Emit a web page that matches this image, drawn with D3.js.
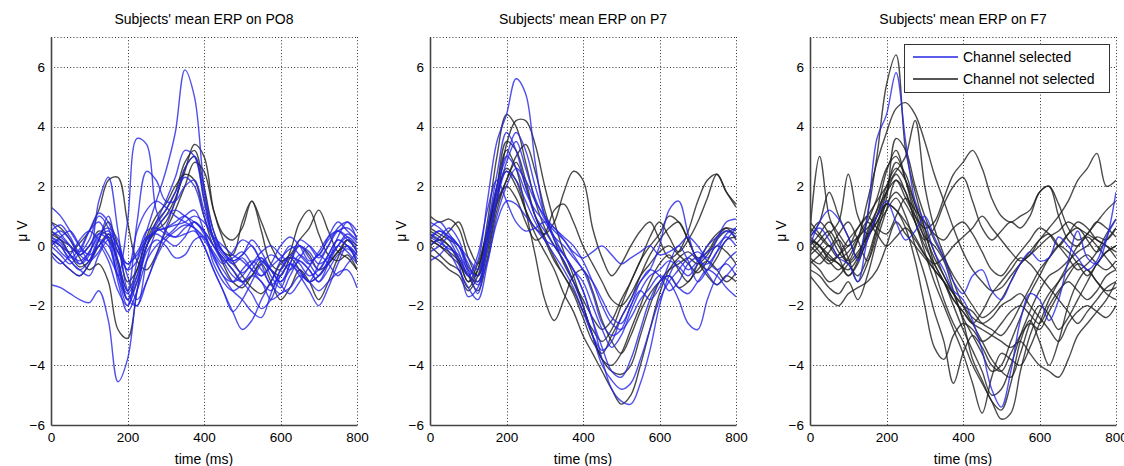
<!DOCTYPE html>
<html>
<head>
<meta charset="utf-8">
<script src="https://cdn.jsdelivr.net/npm/d3@7"></script>
<style>
  body { margin: 0; background: #fff; }
  svg { display: block; font-family: "Liberation Sans", Arial, sans-serif; }
</style>
</head>
<body>
<div id="chart"></div>
<script>
// Time axis (ms), one sample every 25 ms
const times = d3.range(0, 801, 25);
const xTicks = [0, 200, 400, 600, 800];
const yTicks = [-6, -4, -2, 0, 2, 4, 6];
const channels = ['PO8', 'P7', 'F7'];
const legendLabels = ['Channel selected', 'Channel not selected'];

// PO8 — selected (blue)
const po8Selected = [
  [0.3,0.1,-0.3,-0.5,-0.2,0.4,0.6,0.2,-0.8,-0.5,0.5,1.5,2.5,3.8,5.9,5.0,2.0,0.2,-0.5,-1.0,-1.2,-0.8,-0.4,-1.0,-1.4,-0.6,0.0,-0.4,-0.8,-0.3,0.2,0.0,-0.5],
  [-1.3,-1.4,-1.6,-1.8,-1.9,-1.5,-2.5,-4.55,-3.8,-1.5,-0.2,0.2,0.0,-0.4,-0.3,0.2,0.3,-0.6,-1.2,-1.5,-1.3,-1.0,-1.2,-1.8,-1.6,-1.4,-1.0,-1.2,-1.5,-1.2,-0.9,-0.8,-1.4],
  [0.2,0.0,-0.4,-0.1,0.5,0.8,0.2,-1.0,0.8,3.6,3.4,1.2,0.5,0.3,0.4,0.5,0.0,-0.8,-1.5,-2.2,-1.8,-1.2,-0.6,-0.3,-0.5,-0.8,-0.4,0.0,-0.3,0.3,0.8,0.5,0.2],
  [0.8,0.4,0.0,-0.6,-0.3,1.5,2.3,0.5,-1.5,-2.0,-0.5,0.5,1.0,1.2,1.0,0.8,0.5,0.0,-0.5,-0.4,-0.2,-0.6,-1.0,-0.6,0.0,0.3,0.0,-0.5,-0.3,0.2,0.5,0.3,-0.2],
  [0.0,0.3,0.5,0.0,-0.5,0.2,1.0,-0.5,-1.5,0.8,2.5,2.2,1.5,1.5,2.0,2.2,1.2,0.3,-0.2,-0.5,-0.3,0.0,-0.6,-1.3,-1.0,-0.6,-0.8,-1.2,-1.0,-0.5,0.0,-0.2,-0.6],
  [0.2,-0.2,-0.5,-0.8,-0.5,0.2,0.0,-1.0,-2.0,-1.2,0.0,0.8,1.5,2.3,3.2,3.0,1.5,0.2,-0.3,-0.6,-0.4,-0.8,-1.2,-1.5,-0.8,-0.3,-0.6,-1.0,-0.8,-0.3,0.2,0.0,-0.3],
  [0.5,0.3,0.0,-0.3,0.0,0.4,0.2,-0.5,-1.8,-1.0,0.2,0.5,0.6,0.8,1.0,0.6,0.0,-0.8,-1.5,-2.2,-2.8,-2.5,-1.8,-1.2,-0.5,0.0,-0.3,-0.6,-0.2,0.3,0.5,0.2,-0.1],
  [0.0,0.2,-0.3,-0.6,-0.2,0.3,0.5,0.0,-0.6,-0.3,0.2,0.5,0.6,0.7,0.8,1.0,0.8,0.3,0.0,-0.3,-0.5,-0.8,-1.0,-0.7,-0.4,-0.1,0.0,-0.2,-0.6,-0.4,0.0,0.3,0.0],
  [0.3,0.0,-0.5,-0.8,-1.0,-0.3,0.2,-1.2,-2.2,-1.5,-0.5,0.0,0.3,0.6,1.0,1.2,0.5,-0.4,-1.0,-1.5,-1.8,-2.2,-2.4,-1.6,-0.8,-0.4,-0.5,-0.8,-1.2,-0.8,-0.3,-0.1,-0.4],
  [1.3,1.0,0.5,0.0,-0.3,0.0,0.3,-0.2,-0.8,0.5,1.2,1.5,1.3,1.0,0.8,0.6,0.3,-0.2,-0.6,-0.2,0.2,0.0,-0.5,-0.8,-1.2,-0.8,-0.3,-0.6,-1.0,-0.5,0.3,0.8,0.2],
  [-0.2,-0.5,-0.8,-1.0,-0.6,0.0,-0.5,-1.5,-2.0,-0.5,0.5,0.6,0.4,0.3,0.6,0.8,0.4,-0.3,-1.0,-1.2,-0.8,-0.5,-0.8,-1.3,-1.6,-1.0,-0.5,-0.8,-1.2,-0.6,0.0,0.4,0.1],
  [0.5,0.7,0.3,-0.2,0.2,1.0,0.6,-0.8,-1.6,-1.0,0.0,0.7,1.2,1.8,2.3,2.0,1.0,0.2,-0.2,-0.5,-0.3,0.2,-0.2,-0.8,-1.2,-0.6,0.2,0.0,-0.4,0.0,0.5,0.6,0.3],
  [-0.3,-0.6,-0.3,0.2,0.5,0.2,-0.3,-1.0,-1.8,-2.0,-1.2,-0.4,0.2,0.5,0.7,0.6,0.2,-0.3,-0.8,-1.2,-1.0,-0.6,-0.4,-0.8,-1.3,-1.6,-1.2,-0.7,-0.3,-0.6,-1.0,-0.6,-0.2],
  [0.0,-0.3,-0.6,-0.2,0.5,1.1,0.8,-0.2,-0.6,-0.2,0.3,0.4,0.2,0.0,0.3,0.8,0.5,0.0,-0.4,-0.8,-1.2,-1.6,-2.1,-1.8,-1.0,-0.6,-1.0,-1.5,-2.0,-1.4,-0.6,0.0,-0.3],
  [0.3,0.5,0.2,-0.3,-0.5,-0.2,0.4,0.0,-1.0,-1.8,-1.2,-0.3,0.6,1.5,2.6,3.0,1.8,0.5,-0.2,-0.6,-0.9,-0.6,-0.2,0.0,-0.3,-0.6,-0.9,-1.2,-0.6,0.0,0.6,0.8,0.5]
];
// PO8 — not selected (black)
const po8NotSelected = [
  [0.8,0.6,0.2,-0.4,-0.8,-0.6,-1.2,-2.8,-3.1,-1.5,0.0,0.6,1.0,1.6,2.5,3.4,3.0,1.2,0.2,-0.5,-1.0,-1.4,-1.6,-1.2,-0.6,-0.4,-0.8,-1.2,-1.0,-0.6,-0.2,0.0,-0.6],
  [0.2,0.0,-0.2,0.1,0.5,1.2,2.2,2.3,0.8,-0.5,-0.8,-0.3,0.5,1.2,2.0,2.8,2.5,1.2,0.4,0.2,0.6,1.5,0.8,0.0,-0.5,-0.3,0.2,0.6,1.2,0.5,-0.2,-0.4,-0.8],
  [0.5,0.2,-0.3,-0.7,-0.5,0.2,0.8,0.0,-1.2,-0.8,0.2,0.8,1.2,1.8,2.8,3.2,2.0,0.5,-0.2,-0.3,0.8,1.5,0.5,-0.6,-0.8,-0.2,0.8,1.2,0.4,-0.3,-0.5,-0.3,-0.8],
  [-0.2,-0.5,-0.8,-1.0,-0.6,0.0,0.4,-0.6,-1.8,-1.2,0.0,0.5,0.8,1.5,2.6,3.0,1.6,0.2,-0.6,-1.2,-1.4,-1.0,-0.6,-1.2,-1.8,-1.4,-0.8,-1.2,-1.8,-1.2,-0.4,0.2,0.0],
  [0.4,0.2,0.0,-0.3,0.0,0.5,0.3,-0.5,-1.5,-0.8,0.3,1.0,1.4,2.0,2.4,2.2,1.0,0.0,-0.4,-0.8,-1.2,-1.0,-0.5,-0.8,-1.0,-0.4,0.0,-0.3,-0.8,-0.6,-0.2,0.2,-0.2]
];

// P7 — selected (blue)
const p7Selected = [
  [0.3,0.5,0.2,-0.4,-1.0,-0.5,1.5,3.5,4.4,5.6,5.1,2.8,1.0,0.2,-0.3,-0.8,-1.5,-2.5,-3.8,-4.8,-5.2,-5.3,-4.6,-3.5,-2.0,-1.0,-0.5,-0.8,-0.5,0.0,0.3,0.5,0.3],
  [0.0,0.3,0.6,0.2,-0.8,-1.6,0.5,2.4,3.8,3.2,2.0,1.0,0.5,0.0,-0.5,-1.2,-2.0,-3.0,-4.0,-4.5,-4.8,-4.6,-3.8,-2.8,-1.8,-1.2,-0.8,-0.4,-0.2,-0.5,-0.8,-0.6,-1.0],
  [0.8,0.6,0.3,0.0,-0.6,-1.2,0.0,1.8,3.0,2.6,1.8,1.2,0.8,0.3,0.0,-0.4,-0.8,-1.6,-2.6,-3.0,-2.8,-2.0,-1.5,-1.8,-1.4,-0.6,0.0,-0.5,-1.2,-0.8,-0.2,0.4,0.6],
  [-0.5,-0.3,0.0,-0.6,-1.7,-1.4,0.0,1.5,2.5,2.2,1.5,0.8,0.2,-0.3,-0.8,-1.4,-2.2,-3.0,-3.5,-3.2,-2.4,-1.8,-1.2,-0.8,-1.0,-1.5,-1.2,-0.6,-0.4,-0.9,-1.3,-1.0,-0.6],
  [0.2,0.5,0.3,-0.2,-1.0,-0.3,1.2,2.2,1.5,0.8,0.5,0.6,0.8,0.6,0.2,-0.3,-0.8,-1.2,-1.8,-2.4,-2.6,-2.0,-1.2,-0.8,0.0,1.2,1.5,0.4,-0.5,-0.6,-0.2,0.2,0.6],
  [0.4,0.2,-0.2,-0.8,-1.4,-1.8,-0.6,1.0,2.0,2.6,2.2,1.5,1.0,0.6,0.3,0.0,-0.5,-1.2,-2.0,-2.6,-2.8,-2.4,-1.8,-1.4,-1.0,-1.2,-1.8,-2.6,-2.8,-1.8,-1.0,-0.5,-0.2],
  [0.6,0.8,0.4,0.0,-0.4,-0.8,0.3,1.6,2.8,3.5,2.6,1.6,0.9,0.5,0.2,-0.2,-0.4,-0.2,0.0,-0.3,-0.6,-0.4,-0.2,0.0,-0.3,-0.2,0.0,0.3,0.0,-0.4,0.2,0.8,0.9],
  [-0.2,0.0,0.3,0.0,-0.9,-1.3,-0.5,0.8,1.5,1.4,1.0,0.6,0.2,0.0,-0.3,-0.8,-1.5,-2.5,-3.4,-4.2,-4.4,-3.8,-2.8,-1.8,-1.2,-1.0,-1.4,-1.6,-1.2,-0.8,-1.0,-1.4,-1.7],
  [0.3,0.1,-0.1,-0.3,-0.8,-1.0,0.6,2.0,3.0,3.8,3.2,2.0,1.0,0.3,-0.3,-0.8,-1.2,-2.0,-2.8,-3.4,-3.0,-2.2,-1.5,-1.0,-0.8,-0.5,-0.7,-1.0,-0.6,-0.2,0.0,0.3,0.0]
];
// P7 — not selected (black)
const p7NotSelected = [
  [0.5,0.3,0.0,-0.5,-1.2,-0.8,0.8,3.0,4.4,4.0,2.8,1.5,0.6,0.0,-0.5,-1.2,-2.0,-3.0,-3.8,-4.0,-3.6,-2.8,-2.0,-1.2,-0.6,-0.3,-0.8,-1.2,-0.6,0.0,0.4,0.6,0.2],
  [0.2,0.0,-0.3,-0.6,-1.0,-1.2,-0.2,1.5,3.4,4.2,4.2,3.4,2.0,0.8,-0.2,-1.0,-2.0,-3.0,-3.8,-4.2,-4.3,-4.0,-3.0,-2.0,-1.2,-0.8,-0.6,-0.4,-0.6,-0.3,0.2,0.5,0.4],
  [1.0,0.8,0.9,0.6,-0.4,-1.0,0.0,1.6,2.6,2.2,1.2,0.6,0.4,0.8,1.8,2.5,2.2,0.6,-0.4,-1.0,-0.6,0.0,0.5,0.8,0.2,-0.4,-0.2,0.5,1.5,2.2,2.4,1.8,1.3],
  [0.0,-0.3,-0.6,-0.8,-1.4,-0.8,0.5,2.0,3.2,2.6,1.2,-0.3,-1.8,-2.5,-1.8,-1.0,-0.8,-1.5,-2.5,-3.2,-3.6,-3.0,-2.2,-1.6,-1.2,-1.0,-1.4,-1.2,-0.8,-0.5,-0.8,-1.2,-0.9],
  [-0.3,-0.5,-0.8,-1.0,-1.5,-1.0,0.3,1.8,2.5,2.0,1.2,0.4,-0.2,-0.8,-1.6,-2.2,-3.0,-3.6,-4.2,-4.8,-5.3,-5.0,-4.0,-2.8,-1.6,-0.8,-0.4,-0.2,-0.5,-0.8,-0.4,0.2,0.3],
  [0.4,0.2,0.5,0.8,0.0,-0.6,0.4,2.0,3.5,3.2,2.2,1.0,0.3,-0.4,-1.0,-1.5,-2.2,-2.8,-3.2,-2.8,-2.0,-1.2,-0.5,0.3,0.8,0.3,-0.2,0.2,0.8,1.6,2.4,1.8,1.4],
  [0.0,0.2,0.0,-0.4,-1.0,-1.5,-0.4,1.2,2.2,2.8,2.0,1.0,0.2,-0.5,-1.0,-1.6,-2.4,-3.2,-3.6,-3.0,-2.4,-1.8,-1.0,-0.3,0.2,0.6,0.8,0.2,-0.4,-0.2,0.3,0.6,0.5],
  [0.6,0.4,0.2,0.0,-0.7,-1.0,0.2,1.4,2.0,1.6,0.8,0.2,0.4,1.2,1.4,0.8,0.0,-0.6,-1.2,-1.8,-2.0,-1.6,-1.0,-0.6,-0.2,0.0,-0.3,-0.6,-0.9,-0.5,0.0,-0.2,-0.6],
  [0.2,0.0,-0.2,-0.5,-1.2,-0.6,0.5,1.5,2.2,3.0,3.4,2.5,1.2,0.2,-0.6,-1.2,-1.8,-2.4,-2.8,-2.5,-1.8,-1.2,-0.5,0.0,0.4,1.0,0.8,0.2,-0.5,-1.0,-1.3,-1.0,-1.2]
];

// F7 — selected (blue)
const f7Selected = [
  [0.0,0.8,1.2,0.9,0.3,-0.5,1.0,3.6,4.4,5.8,3.5,1.5,0.8,-0.2,-0.8,-1.5,-1.8,-2.5,-3.5,-4.8,-5.4,-4.2,-2.5,-1.6,-1.8,-2.5,-1.8,-0.5,0.5,-0.4,-0.6,0.2,1.8],
  [0.3,0.6,0.2,-0.4,-0.6,-1.2,0.2,1.0,1.5,0.8,0.2,0.5,1.0,0.3,-0.4,-1.2,-1.6,-1.0,-0.8,-1.5,-1.8,-1.2,-0.6,-0.2,-0.5,-0.4,0.3,0.0,-0.4,-0.8,-0.5,0.3,0.9]
];
// F7 — not selected (black)
const f7NotSelected = [
  [0.3,0.0,-0.4,-0.6,-1.0,-0.5,1.0,3.0,5.4,6.4,3.2,1.8,0.6,-0.6,-1.2,-2.0,-2.8,-3.5,-4.2,-5.0,-4.8,-4.0,-3.0,-2.2,-1.5,-1.0,-0.8,-0.5,-0.2,0.0,0.3,0.2,0.6],
  [-0.2,0.2,0.5,0.0,-0.5,0.2,1.5,2.8,3.8,4.6,4.8,4.4,3.5,2.4,1.5,0.6,-0.2,-0.8,-1.2,-1.5,-1.4,-1.0,-0.6,-0.3,0.0,0.3,0.5,0.8,0.6,0.4,0.2,0.0,-0.2],
  [0.5,3.0,1.0,0.2,-0.6,-0.3,0.4,1.2,2.5,3.2,2.2,1.0,0.3,0.0,-0.5,-1.5,-2.5,-3.8,-4.5,-5.2,-5.5,-4.6,-3.2,-2.5,-3.2,-4.0,-3.2,-2.0,-1.2,-0.8,-1.2,-1.5,-1.4],
  [0.0,-0.3,-0.6,-0.3,0.2,0.6,1.0,1.5,2.0,2.5,3.0,4.2,2.0,0.6,-0.3,-1.2,-2.0,-2.6,-3.2,-3.8,-4.2,-4.4,-3.6,-2.6,-2.0,-2.3,-2.8,-2.4,-1.8,-1.2,-0.6,-0.2,0.0],
  [0.2,0.0,-0.3,-0.6,-0.8,-0.4,0.5,1.2,1.8,2.2,1.6,1.0,0.6,0.8,1.6,2.4,2.8,3.2,2.6,1.6,1.0,0.8,1.0,1.2,1.8,2.0,1.4,0.6,0.2,0.4,0.8,0.6,0.3],
  [-0.5,-0.8,-1.2,-1.0,-0.6,-0.2,0.3,0.8,1.4,1.8,1.4,0.8,0.2,0.6,1.4,2.0,2.3,1.5,0.6,0.2,0.5,0.8,0.6,1.0,1.8,2.0,1.0,0.2,0.0,0.4,0.8,1.2,1.5],
  [0.8,0.4,0.0,-0.4,-0.2,0.3,0.8,0.4,0.0,0.3,0.6,0.2,-0.3,-0.6,-0.4,0.0,0.3,0.6,1.0,0.6,0.2,-0.2,-0.5,-0.3,0.2,0.6,1.0,1.5,2.2,2.6,3.1,2.0,2.2],
  [0.2,0.0,-0.5,-0.8,-0.4,0.2,0.8,1.6,2.6,3.0,2.2,1.2,0.2,-0.8,-1.8,-2.6,-3.2,-4.0,-4.6,-5.2,-5.8,-5.6,-4.2,-3.0,-2.2,-1.6,-1.2,-0.8,-0.5,-0.3,-0.6,-0.8,-0.5],
  [-0.6,-0.3,0.0,-0.4,-1.0,-0.6,0.3,1.0,1.8,2.4,1.8,0.8,-0.2,-1.2,-2.0,-2.8,-3.6,-4.6,-5.6,-4.4,-3.6,-3.8,-4.0,-3.4,-2.6,-1.8,-1.2,-0.6,0.0,0.3,0.0,-0.4,-0.8],
  [0.4,0.8,0.4,-0.2,-0.6,-1.0,-0.4,0.6,1.2,1.6,1.0,0.0,-1.0,-2.2,-3.2,-4.6,-3.6,-3.0,-3.4,-4.0,-4.2,-3.6,-3.0,-2.6,-2.8,-2.2,-1.6,-1.0,-0.6,-0.8,-1.2,-1.6,-1.8],
  [-0.3,0.0,0.4,0.8,2.4,1.0,0.4,0.8,1.4,1.2,0.6,-0.5,-2.0,-3.4,-3.8,-3.0,-2.6,-2.8,-3.2,-3.0,-2.6,-2.2,-2.0,-2.3,-2.6,-2.0,-1.5,-1.2,-1.5,-1.8,-1.5,-1.0,-0.8],
  [0.2,-0.2,-0.5,-0.3,0.0,0.3,0.6,1.0,1.4,1.2,0.8,0.3,-0.3,-0.8,-1.2,-1.8,-2.2,-2.6,-2.8,-3.0,-3.2,-3.4,-3.2,-3.6,-4.0,-4.2,-4.4,-3.8,-3.0,-2.6,-2.2,-1.8,-1.2],
  [-1.0,-1.4,-1.8,-2.0,-1.6,-1.4,-1.2,-0.8,0.0,0.8,0.4,0.0,-0.4,-0.8,-1.2,-1.6,-2.0,-2.4,-2.6,-2.4,-2.0,-1.8,-1.6,-2.0,-2.4,-2.8,-3.2,-2.6,-2.2,-2.0,-2.2,-2.4,-2.0],
  [0.3,0.8,1.8,1.0,0.3,-0.4,0.2,1.0,2.0,2.6,2.2,1.4,0.4,-0.4,-1.0,-1.6,-2.0,-2.2,-2.6,-2.8,-3.0,-2.6,-2.0,-1.4,-0.8,-0.4,0.0,0.4,0.6,0.2,-0.2,0.2,0.6],
  [-0.8,-1.0,-1.4,-1.6,-1.2,-1.8,-1.0,0.2,1.2,2.2,1.8,0.8,0.0,-0.6,-1.2,-1.8,-2.2,-2.6,-2.2,-1.6,-1.2,-0.8,-0.4,-0.6,-1.0,-1.4,-1.8,-2.2,-2.6,-2.2,-1.8,-1.4,-1.2],
  [0.6,0.3,0.0,0.4,0.8,0.2,-0.5,0.4,1.6,3.6,3.2,2.0,1.0,0.2,-0.4,-1.0,-1.5,-2.0,-2.4,-2.2,-1.8,-1.2,-0.6,-0.2,0.2,0.4,0.0,-0.4,-0.8,-0.6,-0.2,0.4,0.9],
  [-0.4,-0.6,-0.2,0.2,-0.4,-1.2,-0.6,0.6,1.8,2.8,2.4,1.4,0.6,-0.2,-1.0,-1.6,-2.4,-3.0,-3.6,-4.2,-4.0,-3.2,-2.4,-1.6,-1.0,-0.4,0.0,-0.2,-0.6,-1.0,-0.6,-0.2,0.0],
  [0.0,0.4,0.8,0.4,0.0,0.6,1.0,0.6,0.4,1.0,1.6,1.2,0.8,0.4,0.2,0.6,0.8,0.4,-0.2,-0.8,-1.0,-0.6,-0.2,0.2,0.6,0.4,0.0,0.4,0.8,0.6,0.2,0.0,-0.4]
];

const panelData = [
  { selected: po8Selected, notSelected: po8NotSelected },
  { selected: p7Selected, notSelected: p7NotSelected },
  { selected: f7Selected, notSelected: f7NotSelected }
];

const blue = '#2424e6';
const black = '#1e1e1e';

const width = 1124, height = 466;
const panelLefts = [51, 430, 810];
const plotW = 306, plotTop = 37, plotH = 388;

const svg = d3.select('#chart').append('svg')
  .attr('width', width)
  .attr('height', height);

const x = d3.scaleLinear().domain([0, 800]).range([0, plotW]);
const y = d3.scaleLinear().domain([-6, 7]).range([plotH, 0]);

const line = d3.line()
  .x((d, i) => x(times[i]))
  .y(d => y(d))
  .curve(d3.curveCatmullRom.alpha(0.5));

channels.forEach((ch, p) => {
  const g = svg.append('g')
    .attr('transform', `translate(${panelLefts[p]},${plotTop})`);

  // clip region
  g.append('clipPath').attr('id', 'clip' + p)
    .append('rect').attr('width', plotW).attr('height', plotH);

  // dotted grid
  const grid = g.append('g')
    .attr('stroke', '#333')
    .attr('stroke-width', 1)
    .attr('stroke-dasharray', '1,2.2');
  grid.selectAll('.vg').data(xTicks.slice(1)).join('line')
    .attr('x1', d => Math.round(x(d)) + 0.5).attr('x2', d => Math.round(x(d)) + 0.5)
    .attr('y1', 0).attr('y2', plotH);
  grid.selectAll('.hg').data(yTicks.slice(1)).join('line')
    .attr('x1', 0).attr('x2', plotW)
    .attr('y1', d => Math.round(y(d)) + 0.5).attr('y2', d => Math.round(y(d)) + 0.5);
  grid.append('line')
    .attr('x1', 0).attr('x2', plotW).attr('y1', 0.5).attr('y2', 0.5);

  // traces: not selected first, selected on top
  const traces = g.append('g').attr('clip-path', `url(#clip${p})`)
    .attr('fill', 'none')
    .attr('stroke-width', 1.4)
    .attr('stroke-linejoin', 'round');
  traces.selectAll('.ns').data(panelData[p].notSelected).join('path')
    .attr('d', line)
    .attr('stroke', black)
    .attr('stroke-opacity', 0.8);
  traces.selectAll('.s').data(panelData[p].selected).join('path')
    .attr('d', line)
    .attr('stroke', blue)
    .attr('stroke-opacity', 0.8);

  // axes
  const xAxis = d3.axisBottom(x).tickValues(xTicks).tickSize(0).tickPadding(7);
  const yAxis = d3.axisLeft(y).tickValues(yTicks).tickSize(0).tickPadding(6);

  const gx = g.append('g').attr('transform', `translate(0,${plotH})`).call(xAxis);
  const gy = g.append('g').call(yAxis);
  [gx, gy].forEach(a => {
    a.select('.domain').attr('stroke', '#444').attr('stroke-width', 1.6);
    a.selectAll('text')
      .attr('fill', '#000')
      .style('font-size', '13.5px')
      .style('font-family', '"Liberation Sans", Arial, sans-serif');
  });

  // title
  g.append('text')
    .attr('x', plotW / 2).attr('y', -13)
    .attr('text-anchor', 'middle')
    .style('font-size', '14px')
    .text(`Subjects' mean ERP on ${ch}`);

  // x label
  g.append('text')
    .attr('x', plotW / 2).attr('y', plotH + 39)
    .attr('text-anchor', 'middle')
    .style('font-size', '14px')
    .text('time (ms)');

  // y label
  g.append('text')
    .attr('transform', `translate(-24,${plotH / 2}) rotate(-90)`)
    .attr('text-anchor', 'middle')
    .style('font-size', '14px')
    .text('μ V');
});

// legend in the F7 panel
const legend = svg.append('g').attr('transform', 'translate(904,44)');
legend.append('rect')
  .attr('x', 0.5).attr('y', 0.5)
  .attr('width', 205).attr('height', 48)
  .attr('fill', '#fff')
  .attr('stroke', '#333')
  .attr('stroke-width', 1);
legendLabels.forEach((label, i) => {
  const ly = 13 + i * 22;
  legend.append('line')
    .attr('x1', 9).attr('x2', 54)
    .attr('y1', ly).attr('y2', ly)
    .attr('stroke', i === 0 ? blue : black)
    .attr('stroke-width', 1.4);
  legend.append('text')
    .attr('x', 59).attr('y', ly + 5)
    .style('font-size', '14px')
    .text(label);
});
</script>
</body>
</html>
